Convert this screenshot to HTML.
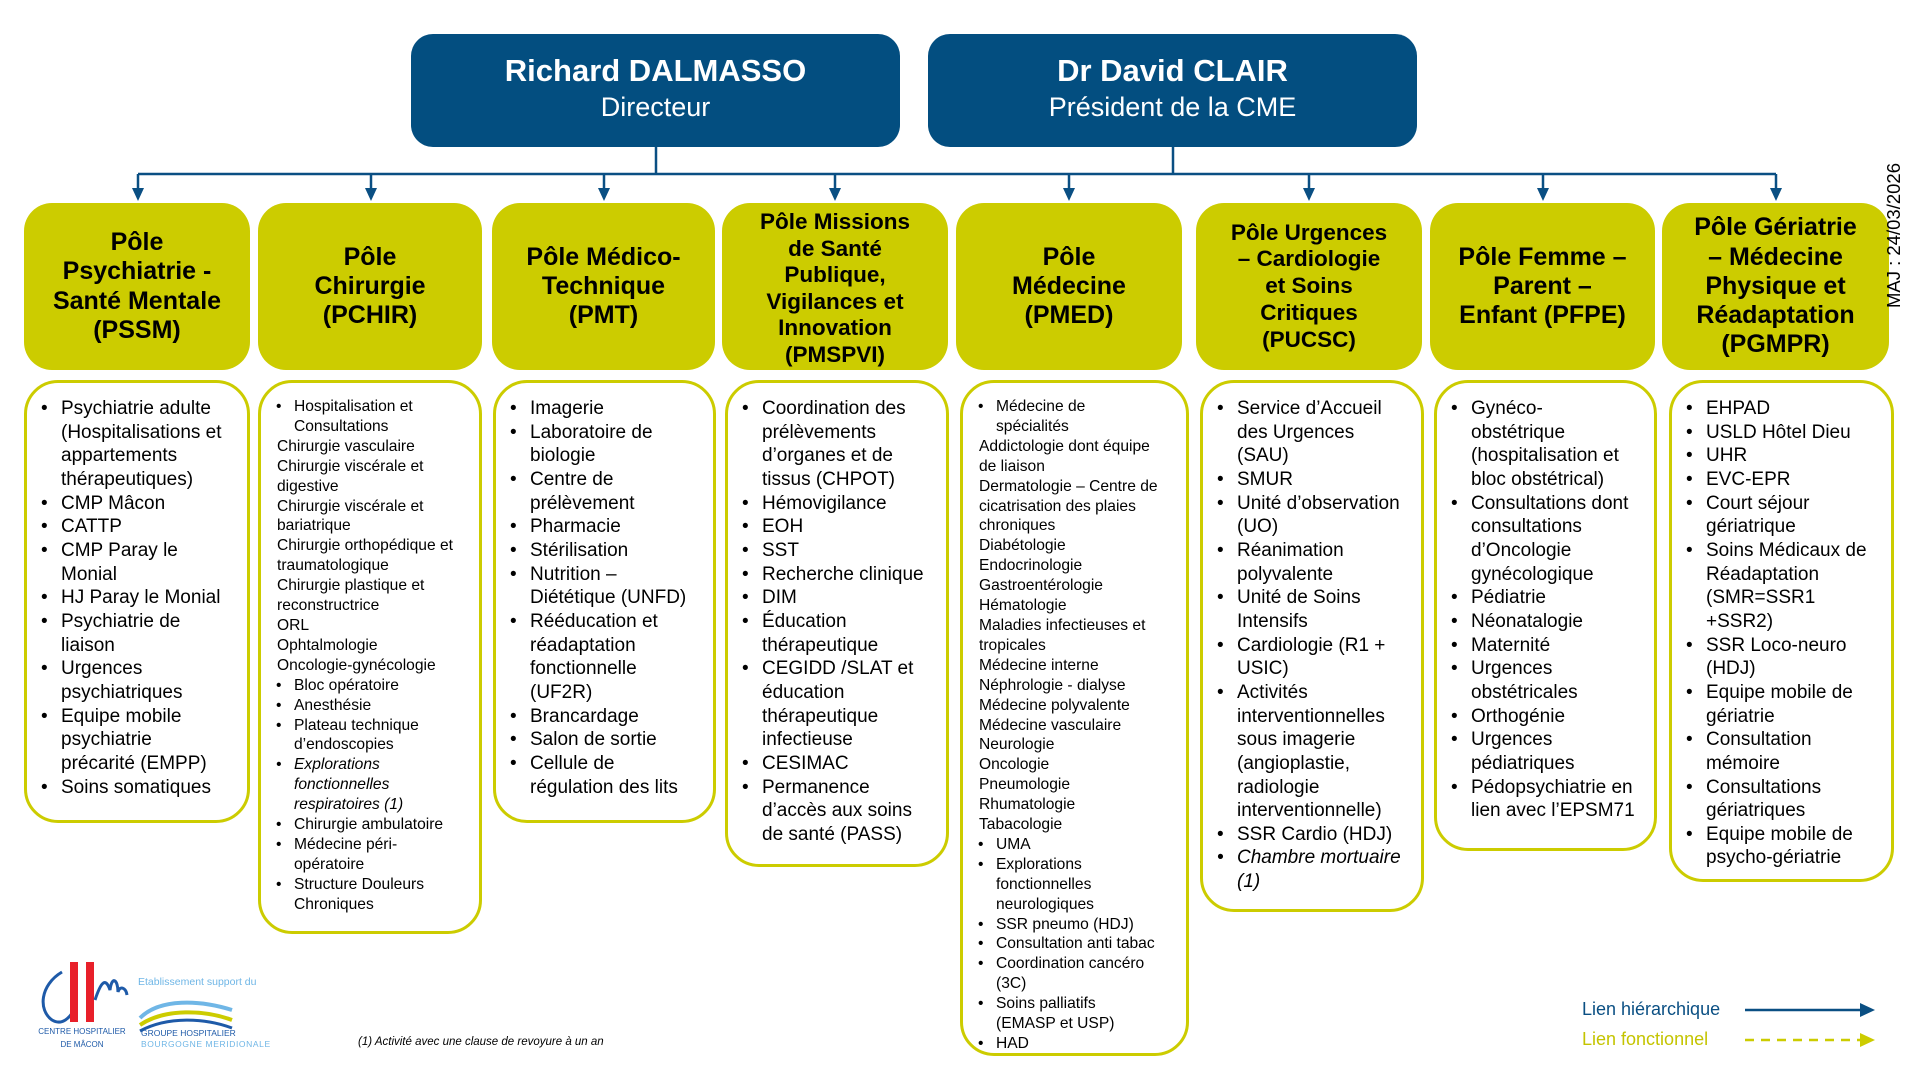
<!DOCTYPE html>
<html><head><meta charset="utf-8">
<style>
*{margin:0;padding:0;box-sizing:border-box}
body{width:1920px;height:1073px;background:#fff;position:relative;overflow:hidden;font-family:"Liberation Sans",Arial,sans-serif;color:#000}
.hd{position:absolute;top:34px;height:113px;width:489px;background:#034E80;border-radius:22px;color:#fff;text-align:center}
.hd .n{font-weight:bold;font-size:31px;margin-top:19px;line-height:36px}
.hd .t{font-size:27px;line-height:36px}
.pole{position:absolute;top:203px;height:167px;background:#CCCC00;border-radius:28px;display:flex;align-items:center;justify-content:center;text-align:center;font-weight:bold;font-size:25px;line-height:29.2px}
.box{position:absolute;top:380px;border:3px solid #CCCC00;border-radius:34px;padding-top:14px;white-space:nowrap}
.L{font-size:19px;line-height:23.65px}
.S{font-size:15.6px;line-height:19.9px}
.b{position:relative;padding-left:34px}
.b:before{content:"•";position:absolute;left:14px}
.S .b{padding-left:33px}
.S .b:before{left:15px}
.p{padding-left:16px}
.i{font-style:italic}
</style></head><body>

<svg width="1920" height="1073" style="position:absolute;left:0;top:0">
<g stroke="#0A4F83" stroke-width="2.5" fill="none">
<line x1="656" y1="147" x2="656" y2="174"/>
<line x1="1173" y1="147" x2="1173" y2="174"/>
<line x1="138" y1="174" x2="1776" y2="174"/>
<line x1="138" y1="174" x2="138" y2="190"/>
<line x1="371" y1="174" x2="371" y2="190"/>
<line x1="604" y1="174" x2="604" y2="190"/>
<line x1="835" y1="174" x2="835" y2="190"/>
<line x1="1069" y1="174" x2="1069" y2="190"/>
<line x1="1309" y1="174" x2="1309" y2="190"/>
<line x1="1543" y1="174" x2="1543" y2="190"/>
<line x1="1776" y1="174" x2="1776" y2="190"/>
<line x1="1745" y1="1010" x2="1862" y2="1010"/>
</g>
<g fill="#0A4F83">
<polygon points="132,188 144,188 138,201"/>
<polygon points="365,188 377,188 371,201"/>
<polygon points="598,188 610,188 604,201"/>
<polygon points="829,188 841,188 835,201"/>
<polygon points="1063,188 1075,188 1069,201"/>
<polygon points="1303,188 1315,188 1309,201"/>
<polygon points="1537,188 1549,188 1543,201"/>
<polygon points="1770,188 1782,188 1776,201"/>
<polygon points="1860,1003 1875,1010 1860,1017"/>
</g>
<line x1="1745" y1="1040" x2="1860" y2="1040" stroke="#CCCC00" stroke-width="2.5" stroke-dasharray="9,7"/>
<polygon points="1860,1033 1875,1040 1860,1047" fill="#CCCC00"/>
<!-- logo -->
<path d="M62 972 C40 985 38 1010 52 1020 C62 1026 70 1018 75 1008" stroke="#1E5AA8" stroke-width="3" fill="none"/>
<rect x="70" y="962" width="8" height="60" fill="#E8202A"/>
<rect x="86" y="962" width="8" height="60" fill="#E8202A"/>
<path d="M95 1000 C100 985 105 975 110 990 C112 975 118 980 118 992 C120 985 126 988 127 995" stroke="#1E5AA8" stroke-width="3" fill="none"/>
<path d="M140 1018 C160 998 200 1000 232 1010" stroke="#6FB6E6" stroke-width="4" fill="none"/>
<path d="M140 1025 C165 1008 205 1010 232 1020" stroke="#CCCC00" stroke-width="4" fill="none"/>
<path d="M140 1031 C168 1016 205 1018 232 1028" stroke="#1E5AA8" stroke-width="3" fill="none"/>
</svg>

<div class="hd" style="left:411px"><div class="n">Richard DALMASSO</div><div class="t">Directeur</div></div>
<div class="hd" style="left:928px"><div class="n">Dr David CLAIR</div><div class="t">Président de la CME</div></div>

<div class="pole" style="left:24px;width:226px">Pôle<br>Psychiatrie -<br>Santé Mentale<br>(PSSM)</div>
<div class="pole" style="left:258px;width:224px">Pôle<br>Chirurgie<br>(PCHIR)</div>
<div class="pole" style="left:492px;width:223px">Pôle Médico-<br>Technique<br>(PMT)</div>
<div class="pole" style="left:722px;width:226px;font-size:22.5px;line-height:26.5px;padding-top:4px">Pôle Missions<br>de Santé<br>Publique,<br>Vigilances et<br>Innovation<br>(PMSPVI)</div>
<div class="pole" style="left:956px;width:226px">Pôle<br>Médecine<br>(PMED)</div>
<div class="pole" style="left:1196px;width:226px;font-size:22.5px;line-height:26.7px">Pôle Urgences<br>– Cardiologie<br>et Soins<br>Critiques<br>(PUCSC)</div>
<div class="pole" style="left:1430px;width:225px">Pôle Femme –<br>Parent –<br>Enfant (PFPE)</div>
<div class="pole" style="left:1662px;width:227px">Pôle Gériatrie<br>– Médecine<br>Physique et<br>Réadaptation<br>(PGMPR)</div>

<div class="box L" style="left:24px;width:226px;height:443px">
<div class="b">Psychiatrie adulte<br>(Hospitalisations et<br>appartements<br>thérapeutiques)</div>
<div class="b">CMP Mâcon</div>
<div class="b">CATTP</div>
<div class="b">CMP Paray le<br>Monial</div>
<div class="b">HJ Paray le Monial</div>
<div class="b">Psychiatrie de<br>liaison</div>
<div class="b">Urgences<br>psychiatriques</div>
<div class="b">Equipe mobile<br>psychiatrie<br>précarité (EMPP)</div>
<div class="b">Soins somatiques</div>
</div>

<div class="box S" style="left:258px;width:224px;height:554px">
<div class="b">Hospitalisation et<br>Consultations</div>
<div class="p">Chirurgie vasculaire</div>
<div class="p">Chirurgie viscérale et<br>digestive</div>
<div class="p">Chirurgie viscérale et<br>bariatrique</div>
<div class="p">Chirurgie orthopédique et<br>traumatologique</div>
<div class="p">Chirurgie plastique et<br>reconstructrice</div>
<div class="p">ORL</div>
<div class="p">Ophtalmologie</div>
<div class="p">Oncologie-gynécologie</div>
<div class="b">Bloc opératoire</div>
<div class="b">Anesthésie</div>
<div class="b">Plateau technique<br>d’endoscopies</div>
<div class="b i">Explorations<br>fonctionnelles<br>respiratoires (1)</div>
<div class="b">Chirurgie ambulatoire</div>
<div class="b">Médecine péri-<br>opératoire</div>
<div class="b">Structure Douleurs<br>Chroniques</div>
</div>

<div class="box L" style="left:493px;width:223px;height:443px">
<div class="b">Imagerie</div>
<div class="b">Laboratoire de<br>biologie</div>
<div class="b">Centre de<br>prélèvement</div>
<div class="b">Pharmacie</div>
<div class="b">Stérilisation</div>
<div class="b">Nutrition –<br>Diététique (UNFD)</div>
<div class="b">Rééducation et<br>réadaptation<br>fonctionnelle<br>(UF2R)</div>
<div class="b">Brancardage</div>
<div class="b">Salon de sortie</div>
<div class="b">Cellule de<br>régulation des lits</div>
</div>

<div class="box L" style="left:725px;width:224px;height:487px">
<div class="b">Coordination des<br>prélèvements<br>d’organes et de<br>tissus (CHPOT)</div>
<div class="b">Hémovigilance</div>
<div class="b">EOH</div>
<div class="b">SST</div>
<div class="b">Recherche clinique</div>
<div class="b">DIM</div>
<div class="b">Éducation<br>thérapeutique</div>
<div class="b">CEGIDD /SLAT et<br>éducation<br>thérapeutique<br>infectieuse</div>
<div class="b">CESIMAC</div>
<div class="b">Permanence<br>d’accès aux soins<br>de santé (PASS)</div>
</div>

<div class="box S" style="left:960px;width:229px;height:676px">
<div class="b">Médecine de<br>spécialités</div>
<div class="p">Addictologie dont équipe<br>de liaison</div>
<div class="p">Dermatologie – Centre de<br>cicatrisation des plaies<br>chroniques</div>
<div class="p">Diabétologie</div>
<div class="p">Endocrinologie</div>
<div class="p">Gastroentérologie</div>
<div class="p">Hématologie</div>
<div class="p">Maladies infectieuses et<br>tropicales</div>
<div class="p">Médecine interne</div>
<div class="p">Néphrologie - dialyse</div>
<div class="p">Médecine polyvalente</div>
<div class="p">Médecine vasculaire</div>
<div class="p">Neurologie</div>
<div class="p">Oncologie</div>
<div class="p">Pneumologie</div>
<div class="p">Rhumatologie</div>
<div class="p">Tabacologie</div>
<div class="b">UMA</div>
<div class="b">Explorations<br>fonctionnelles<br>neurologiques</div>
<div class="b">SSR pneumo (HDJ)</div>
<div class="b">Consultation anti tabac</div>
<div class="b">Coordination cancéro<br>(3C)</div>
<div class="b">Soins palliatifs<br>(EMASP et USP)</div>
<div class="b">HAD</div>
</div>

<div class="box L" style="left:1200px;width:224px;height:532px">
<div class="b">Service d’Accueil<br>des Urgences<br>(SAU)</div>
<div class="b">SMUR</div>
<div class="b">Unité d’observation<br>(UO)</div>
<div class="b">Réanimation<br>polyvalente</div>
<div class="b">Unité de Soins<br>Intensifs</div>
<div class="b">Cardiologie (R1 +<br>USIC)</div>
<div class="b">Activités<br>interventionnelles<br>sous imagerie<br>(angioplastie,<br>radiologie<br>interventionnelle)</div>
<div class="b">SSR Cardio (HDJ)</div>
<div class="b i">Chambre mortuaire<br>(1)</div>
</div>

<div class="box L" style="left:1434px;width:223px;height:471px">
<div class="b">Gynéco-<br>obstétrique<br>(hospitalisation et<br>bloc obstétrical)</div>
<div class="b">Consultations dont<br>consultations<br>d’Oncologie<br>gynécologique</div>
<div class="b">Pédiatrie</div>
<div class="b">Néonatalogie</div>
<div class="b">Maternité</div>
<div class="b">Urgences<br>obstétricales</div>
<div class="b">Orthogénie</div>
<div class="b">Urgences<br>pédiatriques</div>
<div class="b">Pédopsychiatrie en<br>lien avec l’EPSM71</div>
</div>

<div class="box L" style="left:1669px;width:225px;height:502px">
<div class="b">EHPAD</div>
<div class="b">USLD Hôtel Dieu</div>
<div class="b">UHR</div>
<div class="b">EVC-EPR</div>
<div class="b">Court séjour<br>gériatrique</div>
<div class="b">Soins Médicaux de<br>Réadaptation<br>(SMR=SSR1<br>+SSR2)</div>
<div class="b">SSR Loco-neuro<br>(HDJ)</div>
<div class="b">Equipe mobile de<br>gériatrie</div>
<div class="b">Consultation<br>mémoire</div>
<div class="b">Consultations<br>gériatriques</div>
<div class="b">Equipe mobile de<br>psycho-gériatrie</div>
</div>

<div style="position:absolute;left:1884px;top:308px;transform:rotate(-90deg);transform-origin:left top;font-size:18.5px;white-space:nowrap;line-height:20px">MAJ : 24/03/2026</div>

<div style="position:absolute;left:1582px;top:999px;font-size:18px;color:#0A4F83;white-space:nowrap">Lien hiérarchique</div>
<div style="position:absolute;left:1582px;top:1029px;font-size:18px;color:#C4C400;white-space:nowrap">Lien fonctionnel</div>

<div style="position:absolute;left:358px;top:1036px;font-size:11.5px;font-style:italic;white-space:nowrap">(1) Activité avec une clause de revoyure à un an</div>

<div style="position:absolute;left:35px;top:1025px;font-size:8px;color:#1E5AA8;white-space:nowrap;text-align:center;width:94px;line-height:13px">CENTRE HOSPITALIER<br>DE MÂCON</div>
<div style="position:absolute;left:138px;top:976px;font-size:10.5px;color:#6FB6E6;white-space:nowrap">Etablissement support du</div>
<div style="position:absolute;left:141px;top:1028px;font-size:8.5px;color:#1E5AA8;white-space:nowrap;line-height:11px">GROUPE HOSPITALIER<br><span style="color:#6FB6E6;letter-spacing:0.6px">BOURGOGNE MERIDIONALE</span></div>

</body></html>
